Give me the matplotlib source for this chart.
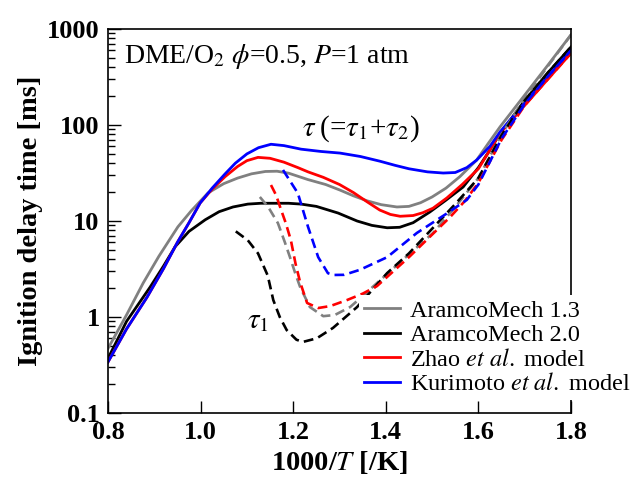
import numpy as np
import matplotlib
matplotlib.use("Agg")
import matplotlib.pyplot as plt

plt.rcParams['font.family'] = ['Liberation Serif', 'DejaVu Serif']
plt.rcParams['mathtext.fontset'] = 'stix'

# solid lines: total ignition delay tau
x_a13 = [0.80, 0.84, 0.876, 0.91, 0.951, 0.98, 1.016, 1.05, 1.08, 1.11, 1.14, 1.165, 1.19, 1.232,
         1.27, 1.301, 1.33, 1.36, 1.39, 1.424, 1.45, 1.475, 1.50, 1.53, 1.56, 1.596, 1.62, 1.647,
         1.70, 1.75, 1.80]
y_a13 = [0.47, 1.05, 2.26, 4.3, 8.7, 12.8, 19.6, 24.5, 28, 31, 32.8, 33, 31.5, 27,
         24, 21, 18.3, 16.2, 14.8, 14, 14.2, 15.5, 17.8, 22, 29, 43, 63, 96,
         205, 420, 870]

x_a20 = [0.80, 0.84, 0.891, 0.92, 0.945, 0.975, 1.01, 1.04, 1.07, 1.102, 1.13, 1.16, 1.19, 1.217,
         1.25, 1.297, 1.338, 1.37, 1.403, 1.43, 1.459, 1.495, 1.53, 1.567, 1.60, 1.625, 1.647,
         1.67, 1.70, 1.75, 1.80]
y_a20 = [0.37, 0.9, 2.05, 3.4, 5.4, 7.8, 10.3, 12.5, 14, 15, 15.3, 15.3, 15.3, 15,
         14.2, 12.1, 10, 9, 8.5, 8.6, 9.6, 12.4, 16.5, 22.6, 36, 55, 82,
         115, 180, 350, 650]

x_zhao = [0.80, 0.84, 0.884, 0.92, 0.95, 0.975, 0.999, 1.025, 1.053, 1.08, 1.10, 1.124, 1.15, 1.18,
          1.21, 1.232, 1.265, 1.30, 1.33, 1.36, 1.387, 1.41, 1.431, 1.459, 1.48, 1.502,
          1.532, 1.565, 1.60, 1.625, 1.647, 1.70, 1.75, 1.80]
y_zhao = [0.34, 0.75, 1.6, 3.2, 6.0, 9.6, 15.4, 21.5, 29, 37, 42.5, 46, 45, 41,
          36, 32.5, 28.5, 24, 19.8, 15.8, 13, 11.7, 11.2, 11.4, 12.2, 13.6,
          17.4, 24, 35, 55, 82, 160, 300, 560]

x_kuri = [0.80, 0.84, 0.884, 0.92, 0.95, 0.975, 0.999, 1.025, 1.053, 1.075, 1.10, 1.125, 1.152,
          1.18, 1.217, 1.26, 1.301, 1.345, 1.387, 1.42, 1.45, 1.49, 1.524, 1.55, 1.575, 1.596,
          1.625, 1.647, 1.70, 1.75, 1.80]
y_kuri = [0.34, 0.75, 1.6, 3.2, 6.0, 9.6, 15.4, 22, 31, 40, 50, 58, 63,
          61, 56, 53, 51, 47, 42, 38, 35, 32.5, 31.6, 32, 36, 43,
          60, 85, 170, 320, 600]

# dashed lines: first-stage delay tau1
xd_a13 = [1.128, 1.146, 1.167, 1.182, 1.193, 1.205, 1.215, 1.236, 1.265, 1.29, 1.323, 1.35,
          1.381, 1.45, 1.502, 1.55, 1.60, 1.65, 1.70, 1.75, 1.80]
yd_a13 = [17.8, 14, 9.5, 6.0, 4.2, 2.8, 2.05, 1.27, 1.02, 1.05, 1.27, 1.65,
          2.26, 4.5, 7.5, 14, 28, 80, 190, 410, 870]

xd_a20 = [1.076, 1.102, 1.124, 1.145, 1.157, 1.171, 1.186, 1.207, 1.221, 1.251, 1.286, 1.338,
          1.37, 1.403, 1.45, 1.502, 1.55, 1.60, 1.65, 1.70, 1.75, 1.80]
yd_a20 = [7.8, 6.3, 4.6, 2.7, 1.5, 1.0, 0.73, 0.58, 0.55, 0.6, 0.77, 1.27,
          1.9, 2.87, 4.6, 8.5, 15, 28, 78, 180, 350, 650]

xd_zhao = [1.152, 1.163, 1.174, 1.184, 1.195, 1.205, 1.215, 1.23, 1.254, 1.28, 1.316, 1.35,
           1.381, 1.45, 1.539, 1.57, 1.60, 1.65, 1.70, 1.75, 1.80]
yd_zhao = [23.7, 18.6, 13, 9.5, 6.3, 3.6, 2.3, 1.4, 1.24, 1.3, 1.5, 1.75,
           2.1, 4.2, 11, 16, 25, 70, 160, 300, 560]

xd_kuri = [1.178, 1.21, 1.232, 1.254, 1.275, 1.286, 1.31, 1.344, 1.403, 1.467, 1.532, 1.575,
           1.60, 1.65, 1.70, 1.75, 1.80]
yd_kuri = [34, 19.5, 8.7, 4.2, 2.86, 2.74, 2.75, 3.1, 4.2, 7.5, 12, 16.6,
           24, 72, 165, 320, 600]

labels = ['AramcoMech 1.3', 'AramcoMech 2.0',
          'Zhao $\\it{et\\ al.}$ model', 'Kurimoto $\\it{et\\ al.}$ model']
colors = ['#808080', 'black', '#ff0000', '#0000ff']

fig = plt.figure(figsize=(6.37, 4.83), dpi=100)
ax = fig.add_axes([108/637, 1 - 413/483, 463/637, 384/483])

solids = [(x_a13, y_a13), (x_a20, y_a20), (x_zhao, y_zhao), (x_kuri, y_kuri)]
dashed = [(xd_a13, yd_a13), (xd_a20, yd_a20), (xd_zhao, yd_zhao), (xd_kuri, yd_kuri)]

handles = []
for (xs, ys), c in zip(solids, colors):
    h, = ax.plot(xs, ys, color=c, lw=2.0, solid_joinstyle='round')
    handles.append(h)
for (xs, ys), c in zip(dashed, colors):
    ax.plot(xs, ys, color=c, lw=1.9, linestyle=(0, (3.7, 2.0)))

ax.set_yscale('log')
ax.set_xlim(0.8, 1.8)
ax.set_ylim(0.1, 1000)
ax.set_xticks([0.8, 1.0, 1.2, 1.4, 1.6, 1.8])
ax.set_xticklabels(['0.8', '1.0', '1.2', '1.4', '1.6', '1.8'])
ax.set_yticks([0.1, 1, 10, 100, 1000])
ax.set_yticklabels(['0.1', '1', '10', '100', '1000'])
ax.tick_params(axis='both', which='major', direction='in', length=9, width=1,
               labelsize=19, top=False, right=False)
ax.tick_params(axis='y', which='minor', direction='in', length=5, width=1, right=False)
ax.tick_params(axis='x', which='minor', bottom=False, top=False)
ax.tick_params(axis='y', pad=6)
ax.tick_params(axis='x', pad=6)
for lab in ax.get_xticklabels() + ax.get_yticklabels():
    lab.set_fontweight('bold')
for s in ax.spines.values():
    s.set_linewidth(1.2)

ax.set_xlabel('1000/$\\bf{\\it{T}}$ [/K]', fontsize=20.5, fontweight='bold', labelpad=3)
ax.set_ylabel('Ignition delay time [ms]', fontsize=20.5, fontweight='bold', labelpad=3)

ax.text(0.035, 0.965, 'DME/O$_2$ $\\phi$=0.5, $P$=1 atm', transform=ax.transAxes,
        fontsize=20, ha='left', va='top')
ax.text(1.22, 92, '$\\tau\\;$(=$\\tau_1$+$\\tau_2$)', fontsize=21, ha='left', va='center')
ax.text(1.1, 0.9, '$\\tau_1$', fontsize=21, ha='left', va='center')

leg = fig.legend(handles, labels, loc='lower left', bbox_to_anchor=(359/637, 1 - 400/483),
                 fontsize=17.5, frameon=True, fancybox=False, framealpha=1,
                 edgecolor='none', facecolor='white', handlelength=1.5,
                 handletextpad=0.4, labelspacing=0.1, borderpad=0.2, borderaxespad=0)

fig.savefig('out.png', dpi=100)
